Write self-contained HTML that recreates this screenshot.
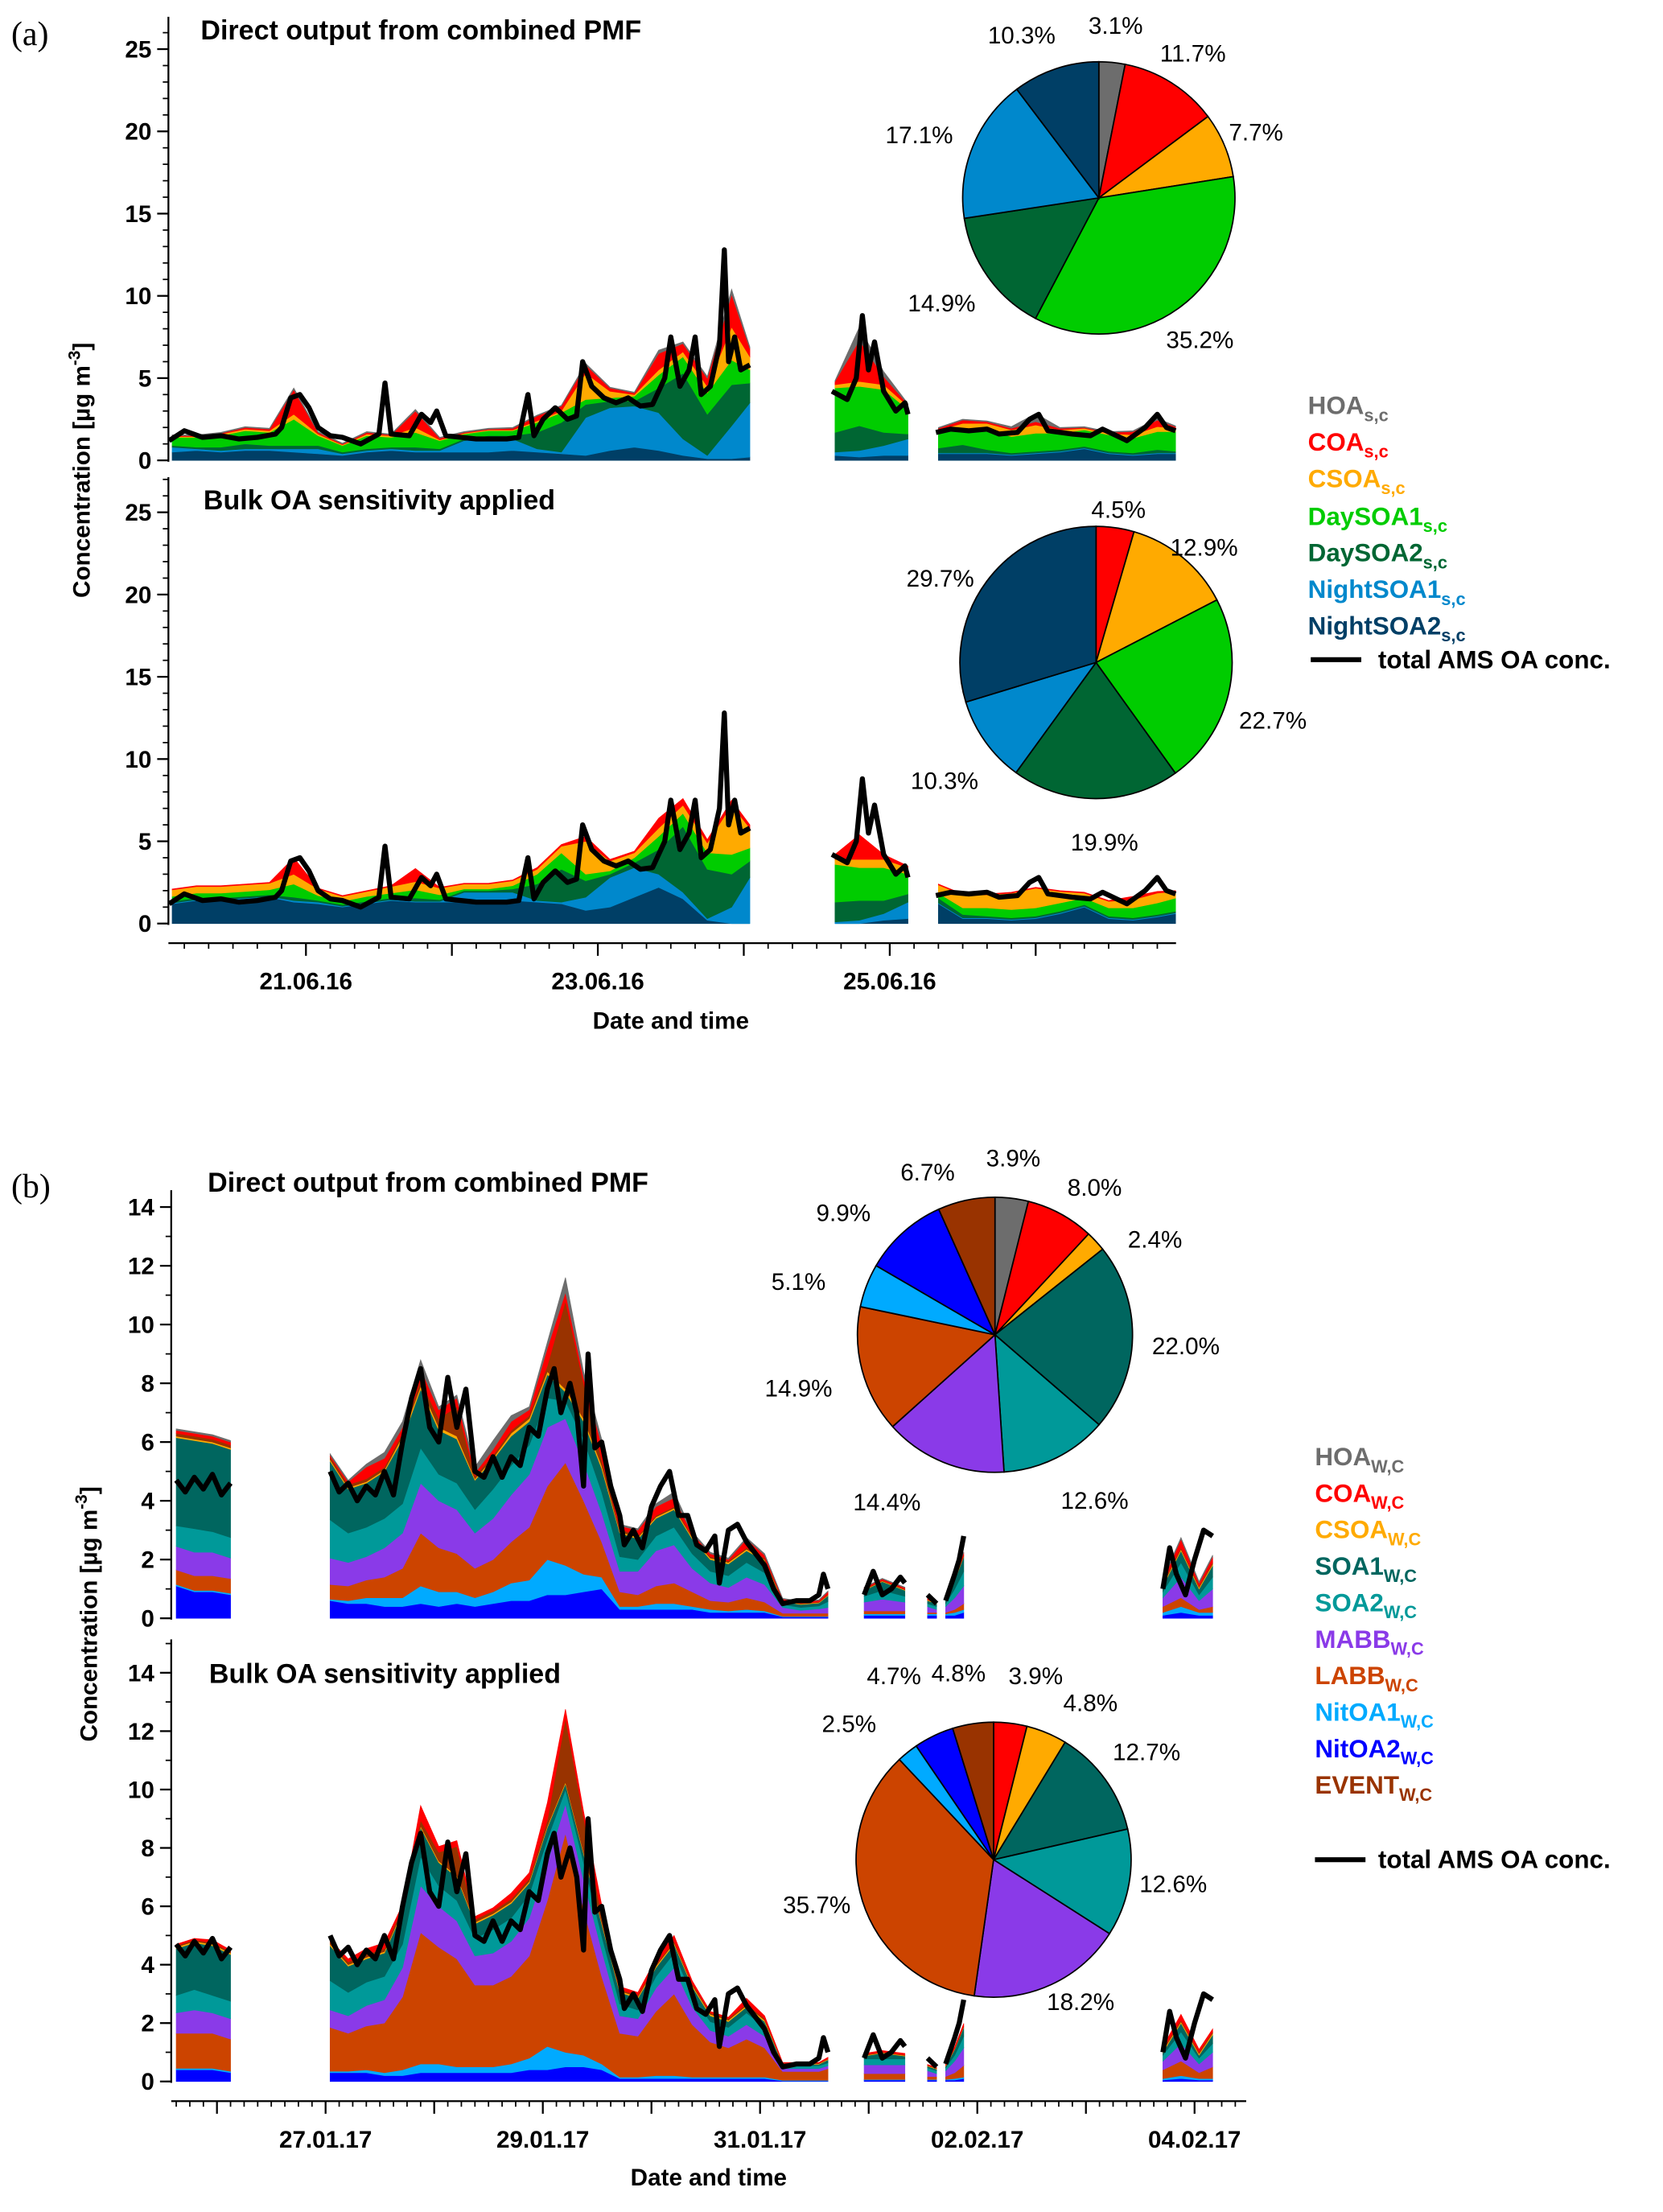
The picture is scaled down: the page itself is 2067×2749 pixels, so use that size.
<!DOCTYPE html>
<html><head><meta charset="utf-8"><style>
html,body{margin:0;padding:0;background:#fff}
svg{display:block}
text{font-family:"Liberation Sans",Arial,sans-serif}
.t{font-weight:bold;font-size:17px}
.ti{font-weight:bold;font-size:19.5px}
.pc{font-size:17px}
.lg{font-weight:bold;font-size:18px}
.sb{font-size:12.5px}
</style></head><body>
<svg id="fig" width="2067" height="2749" viewBox="0 0 1185 1576" xmlns="http://www.w3.org/2000/svg">
<rect x="0" y="0" width="1185" height="1576" fill="#fff"/>
<g id="layer"></g>
<text x="8" y="32" font-size="24" style="font-family:'Liberation Serif',serif">(a)</text>
<text x="8" y="853" font-size="24" style="font-family:'Liberation Serif',serif">(b)</text>
<text class="ti" x="143" y="28">Direct output from combined PMF</text>
<text class="ti" x="145" y="363">Bulk OA sensitivity applied</text>
<text class="ti" x="148" y="849">Direct output from combined PMF</text>
<text class="ti" x="149" y="1199">Bulk OA sensitivity applied</text>
<text class="t" x="478" y="733" text-anchor="middle" font-size="18.5">Date and time</text>
<text class="t" x="505" y="1557" text-anchor="middle" font-size="18.5">Date and time</text>
<text class="t" transform="translate(64,335) rotate(-90)" text-anchor="middle" font-size="19">Concentration [µg m<tspan dy="-7" font-size="12">-3</tspan><tspan dy="7">]</tspan></text>
<text class="t" transform="translate(69,1150) rotate(-90)" text-anchor="middle" font-size="19">Concentration [µg m<tspan dy="-7" font-size="12">-3</tspan><tspan dy="7">]</tspan></text>

<g>
<text class="lg" x="932" y="295" fill="#6d6d6d">HOA<tspan class="sb" dy="5">s,c</tspan></text>
<text class="lg" x="932" y="321" fill="#ff0000">COA<tspan class="sb" dy="5">s,c</tspan></text>
<text class="lg" x="932" y="347" fill="#ffaa00">CSOA<tspan class="sb" dy="5">s,c</tspan></text>
<text class="lg" x="932" y="374" fill="#00cc00">DaySOA1<tspan class="sb" dy="5">s,c</tspan></text>
<text class="lg" x="932" y="400" fill="#006633">DaySOA2<tspan class="sb" dy="5">s,c</tspan></text>
<text class="lg" x="932" y="426" fill="#0088cc">NightSOA1<tspan class="sb" dy="5">s,c</tspan></text>
<text class="lg" x="932" y="452" fill="#003f66">NightSOA2<tspan class="sb" dy="5">s,c</tspan></text>
<line x1="934" y1="470" x2="970" y2="470" stroke="#000" stroke-width="3.5"/>
<text class="lg" x="982" y="476">total AMS OA conc.</text>
</g>
<g>
<text class="lg" x="937" y="1044" fill="#6d6d6d">HOA<tspan class="sb" dy="5">W,C</tspan></text>
<text class="lg" x="937" y="1070" fill="#ff0000">COA<tspan class="sb" dy="5">W,C</tspan></text>
<text class="lg" x="937" y="1096" fill="#ffaa00">CSOA<tspan class="sb" dy="5">W,C</tspan></text>
<text class="lg" x="937" y="1122" fill="#00665f">SOA1<tspan class="sb" dy="5">W,C</tspan></text>
<text class="lg" x="937" y="1148" fill="#009999">SOA2<tspan class="sb" dy="5">W,C</tspan></text>
<text class="lg" x="937" y="1174" fill="#8a3ae8">MABB<tspan class="sb" dy="5">W,C</tspan></text>
<text class="lg" x="937" y="1200" fill="#cc4400">LABB<tspan class="sb" dy="5">W,C</tspan></text>
<text class="lg" x="937" y="1226" fill="#00aaff">NitOA1<tspan class="sb" dy="5">W,C</tspan></text>
<text class="lg" x="937" y="1252" fill="#0000ff">NitOA2<tspan class="sb" dy="5">W,C</tspan></text>
<text class="lg" x="937" y="1278" fill="#993300">EVENT<tspan class="sb" dy="5">W,C</tspan></text>
<line x1="937" y1="1325" x2="973" y2="1325" stroke="#000" stroke-width="3.5"/>
<text class="lg" x="982" y="1331">total AMS OA conc.</text>
</g>

<g>
<text class="pc" text-anchor="middle" x="795" y="24">3.1%</text>
<text class="pc" text-anchor="middle" x="850" y="44">11.7%</text>
<text class="pc" text-anchor="middle" x="895" y="100">7.7%</text>
<text class="pc" text-anchor="middle" x="855" y="248">35.2%</text>
<text class="pc" text-anchor="middle" x="671" y="222">14.9%</text>
<text class="pc" text-anchor="middle" x="655" y="102">17.1%</text>
<text class="pc" text-anchor="middle" x="728" y="31">10.3%</text>
<text class="pc" text-anchor="middle" x="797" y="369">4.5%</text>
<text class="pc" text-anchor="middle" x="858" y="396">12.9%</text>
<text class="pc" text-anchor="middle" x="907" y="519">22.7%</text>
<text class="pc" text-anchor="middle" x="787" y="606">19.9%</text>
<text class="pc" text-anchor="middle" x="673" y="562">10.3%</text>
<text class="pc" text-anchor="middle" x="670" y="418">29.7%</text>
<text class="pc" text-anchor="middle" x="722" y="831">3.9%</text>
<text class="pc" text-anchor="middle" x="780" y="852">8.0%</text>
<text class="pc" text-anchor="middle" x="823" y="889">2.4%</text>
<text class="pc" text-anchor="middle" x="845" y="965">22.0%</text>
<text class="pc" text-anchor="middle" x="780" y="1075">12.6%</text>
<text class="pc" text-anchor="middle" x="632" y="1076">14.4%</text>
<text class="pc" text-anchor="middle" x="569" y="995">14.9%</text>
<text class="pc" text-anchor="middle" x="569" y="919">5.1%</text>
<text class="pc" text-anchor="middle" x="601" y="870">9.9%</text>
<text class="pc" text-anchor="middle" x="661" y="841">6.7%</text>
<text class="pc" text-anchor="middle" x="738" y="1200">3.9%</text>
<text class="pc" text-anchor="middle" x="777" y="1219">4.8%</text>
<text class="pc" text-anchor="middle" x="817" y="1254">12.7%</text>
<text class="pc" text-anchor="middle" x="836" y="1348">12.6%</text>
<text class="pc" text-anchor="middle" x="770" y="1432">18.2%</text>
<text class="pc" text-anchor="middle" x="582" y="1363">35.7%</text>
<text class="pc" text-anchor="middle" x="605" y="1234">2.5%</text>
<text class="pc" text-anchor="middle" x="637" y="1200">4.7%</text>
<text class="pc" text-anchor="middle" x="683" y="1198">4.8%</text>
</g>
</svg>
<script>
// ---------- Panel (a) data: hours since 20.06.16 00:00 ----------
const tA = [2,6,10,14,18,22,26,30,34,38,42,46,50,54,58,62,66,70,74,78,82,86,90,94,97,null,111,115,119,123,null,128,132,136,140,144,148,152,156,160,164,167];
const aTopNightSOA2 = [0.5,0.6,0.5,0.6,0.6,0.5,0.4,0.3,0.5,0.6,0.5,0.5,0.5,0.5,0.6,0.5,0.4,0.3,0.6,0.8,0.6,0.3,0.1,0.1,0.2,null,0.3,0.2,0.3,0.3,null,0.4,0.4,0.4,0.3,0.4,0.5,0.7,0.4,0.3,0.4,0.4];
const aTopNightSOA1 = [0.3,0.1,0.1,0.1,0.1,0.2,0.3,0.1,0.1,0.1,0.1,0.1,0.7,0.9,0.7,0.2,0.1,2.3,2.6,2.5,2.3,1.0,0.2,2.0,3.3,null,0.2,0.4,0.6,1.0,null,0.05,0.05,0.05,0.05,0.05,0.05,0.05,0.05,0.05,0.05,0.05];
const aTopDaySOA2 = [0.1,0.1,0.2,0.3,0.2,0.2,0.2,0.1,0.1,0.1,0.2,0.1,0.1,0.1,0.2,1.0,1.8,0.8,0.4,0.3,1.5,4.0,2.5,2.5,1.2,null,1.2,1.5,0.8,0.3,null,0.3,0.5,0.2,0.1,0.1,0.1,0.1,0.1,0.1,0.2,0.1];
const aTopDaySOA1 = [0.5,0.6,0.7,0.8,0.8,1.6,0.6,0.4,0.8,0.6,0.9,0.5,0.3,0.3,0.3,0.6,0.6,0.3,0.2,0.3,0.8,1.0,1.3,1.5,0.8,null,2.7,2.4,2.6,1.5,null,1.0,1.0,1.2,1.0,1.1,1.0,1.0,1.0,0.9,1.1,1.2];
const aTopCSOA = [0.05,0.05,0.1,0.1,0.1,0.3,0.1,0.05,0.1,0.1,0.3,0.05,0.05,0.05,0.05,0.1,0.1,1.6,0.4,0.1,0.3,0.3,0.4,2.0,0.8,null,0.2,0.3,0.3,0.2,null,0.1,0.3,0.4,0.4,0.5,0.2,0.1,0.1,0.2,0.3,0.2];
const aTopCOA = [0.05,0.05,0.05,0.1,0.1,1.5,0.1,0.05,0.1,0.05,1.0,0.1,0.05,0.05,0.1,0.3,0.3,0.5,0.2,0.1,1.0,0.5,0.5,2.0,0.5,null,0.2,2.5,0.5,0.1,null,0.1,0.2,0.1,0.1,0.2,0.1,0.05,0.05,0.2,0.4,0.1];
const aTopHOA = [0.05,0.05,0.05,0.05,0.05,0.1,0.05,0.05,0.05,0.05,0.1,0.05,0.05,0.05,0.05,0.05,0.05,0.1,0.05,0.05,0.2,0.1,0.1,0.3,0.1,null,0.05,0.8,0.3,0.05,null,0.05,0.05,0.05,0.1,0.5,0.05,0.05,0.05,0.05,0.1,0.05];

const aBotNightSOA2 = [1.2,1.4,1.4,1.5,1.6,1.3,1.2,1.0,1.2,1.4,1.3,1.3,1.3,1.3,1.4,1.3,1.2,0.8,1.0,1.6,2.2,1.5,0.2,0.0,0.0,null,0.0,0.0,0.2,0.3,null,1.2,0.3,0.3,0.2,0.3,0.6,1.0,0.3,0.2,0.4,0.6];
const aBotNightSOA1 = [0.05,0.05,0.05,0.05,0.05,0.1,0.1,0.05,0.05,0.05,0.05,0.05,0.6,0.6,0.5,0.1,0.1,0.8,1.8,1.8,0.8,0.4,0.1,1.0,2.8,null,0.1,0.2,0.4,1.0,null,0.05,0.05,0.05,0.05,0.05,0.05,0.05,0.05,0.05,0.05,0.05];
const aBotDaySOA2 = [0.1,0.1,0.1,0.1,0.1,0.2,0.1,0.1,0.1,0.1,0.2,0.1,0.1,0.1,0.2,1.0,2.0,1.0,0.2,0.3,1.5,4.0,3.0,2.0,1.0,null,1.2,1.2,0.8,0.5,null,0.3,0.2,0.1,0.1,0.1,0.1,0.1,0.1,0.1,0.1,0.1];
const aBotDaySOA1 = [0.3,0.3,0.3,0.3,0.3,0.8,0.3,0.2,0.3,0.3,0.5,0.3,0.1,0.1,0.2,0.6,1.0,0.4,0.2,0.3,0.8,0.8,1.0,1.2,0.8,null,2.3,2.0,2.0,1.2,null,0.3,0.4,0.5,0.5,0.5,0.5,0.4,0.5,0.6,0.7,0.8];
const aBotCSOA = [0.4,0.4,0.4,0.4,0.4,0.6,0.4,0.3,0.3,0.4,0.5,0.4,0.3,0.3,0.3,0.3,0.4,2.0,0.6,0.3,0.5,0.5,0.6,3.0,1.2,null,0.3,0.5,0.5,0.4,null,0.5,0.8,0.8,1.0,1.2,0.7,0.3,0.4,0.5,0.6,0.4];
const aBotCOA = [0.05,0.05,0.05,0.05,0.05,1.0,0.05,0.05,0.05,0.05,0.8,0.05,0.05,0.05,0.05,0.1,0.1,0.3,0.1,0.1,0.6,0.4,0.2,0.3,0.2,null,0.3,1.5,0.3,0.1,null,0.05,0.05,0.05,0.05,0.05,0.05,0.05,0.05,0.2,0.1,0.05];

const lineAT = [1.5,4,7,10,13,16,19,20,21.5,23,24.5,26,28,30,33,36,37,38,41,43,44.5,45.5,47,52,57,59,60.5,61.5,63,65,67,68.5,69.5,71,73,75,77,79,81,83,84,85.5,87,88,89,90.5,92,92.8,93.5,94.5,95.5,97,null,110.5,113,114.5,115.5,116.5,117.5,119,121,122.5,123,null,127.6,130,133,136,138,141,143,144.5,146,150,153,155,159,162,164,165.5,167];
const lineAV = [1.2,1.8,1.4,1.5,1.3,1.4,1.6,2.0,3.8,4.0,3.2,2.0,1.5,1.4,1.0,1.6,4.7,1.6,1.5,2.8,2.3,3.0,1.5,1.3,1.3,1.4,4.0,1.5,2.5,3.2,2.5,2.7,6.0,4.5,3.8,3.5,3.8,3.3,3.4,5.0,7.5,4.5,5.5,7.5,4.0,4.5,7.0,12.8,6.0,7.5,5.5,5.8,null,4.2,3.7,5.0,8.8,5.5,7.2,4.2,3.0,3.5,2.8,null,1.7,1.9,1.8,1.9,1.6,1.7,2.5,2.8,1.8,1.6,1.5,1.9,1.2,2.0,2.8,2.0,1.8];

const pieATop = [3.1,11.7,7.7,35.2,14.9,17.1,10.3];
const pieABot = [0,4.5,12.9,22.7,19.9,10.3,29.7];
const yTicksA = [0,5,10,15,20,25];
const xLabelsA = ["21.06.16","23.06.16","25.06.16"];

// ---------- Panel (b) data: hours since 26.01.17 00:00 ----------
const tB = [-9,-5,-1,3,null,25,29,33,37,41,45,49,53,57,61,65,69,73,77,81,85,89,93,97,101,105,109,113,117,121,125,129,133,135,null,143,147,152,null,157,159,null,161,163,165,null,209,213,217,220];
const bTopNitOA2 = [1.1,0.9,0.9,0.8,null,0.6,0.5,0.5,0.4,0.4,0.5,0.4,0.5,0.4,0.5,0.6,0.6,0.8,0.8,0.9,1.0,0.3,0.3,0.3,0.3,0.3,0.2,0.2,0.2,0.2,0.05,0.05,0.05,0.05,null,0.1,0.1,0.1,null,0.1,0.1,null,0.1,0.1,0.2,null,0.1,0.2,0.1,0.1];
const bTopNitOA1 = [0.05,0.05,0.05,0.05,null,0.05,0.1,0.2,0.3,0.3,0.6,0.5,0.4,0.3,0.4,0.6,0.7,1.2,1.0,0.6,0.4,0.1,0.1,0.2,0.2,0.1,0.1,0.05,0.1,0.05,0.02,0.02,0.02,0.02,null,0.05,0.05,0.05,null,0.05,0.05,null,0.05,0.1,0.1,null,0.1,0.2,0.1,0.1];
const bTopLABB = [0.5,0.5,0.5,0.5,null,0.5,0.5,0.6,0.7,1.0,1.8,1.5,1.3,1.0,1.1,1.4,1.8,2.5,3.5,2.5,1.2,0.5,0.4,0.6,0.7,0.5,0.3,0.3,0.4,0.3,0.1,0.1,0.1,0.1,null,0.1,0.1,0.1,null,0.05,0.05,null,0.05,0.1,0.2,null,0.2,0.3,0.1,0.2];
const bTopMABB = [0.8,0.8,0.8,0.7,null,0.9,0.8,0.8,1.0,1.2,1.7,1.6,1.5,1.2,1.4,1.6,1.8,2.0,1.5,1.3,1.0,0.7,0.8,1.2,1.3,0.8,0.6,0.5,0.7,0.6,0.2,0.1,0.15,0.2,null,0.3,0.4,0.3,null,0.2,0.1,null,0.2,0.4,0.6,null,0.3,0.7,0.3,0.6];
const bTopSOA2 = [0.7,0.8,0.7,0.7,null,1.3,1.0,1.0,1.0,1.0,1.2,0.9,0.9,0.8,1.0,1.0,1.0,1.0,0.6,0.8,0.7,0.5,0.4,0.5,0.6,0.5,0.4,0.4,0.5,0.4,0.1,0.1,0.1,0.2,null,0.2,0.3,0.2,null,0.1,0.1,null,0.1,0.3,0.5,null,0.2,0.5,0.2,0.4];
const bTopSOA1 = [3.0,3.0,3.0,3.0,null,2.0,1.5,1.5,1.6,2.2,2.0,1.5,1.5,1.0,1.0,1.0,0.8,0.8,0.3,0.6,0.8,0.8,0.7,0.6,0.6,0.5,0.4,0.4,0.4,0.4,0.1,0.1,0.1,0.2,null,0.2,0.3,0.2,null,0.1,0.1,null,0.1,0.3,0.5,null,0.2,0.4,0.2,0.4];
const bTopCSOA = [0.05,0.05,0.05,0.05,null,0.05,0.05,0.05,0.05,0.1,0.1,0.1,0.1,0.05,0.05,0.1,0.1,0.1,0.1,0.1,0.1,0.05,0.05,0.05,0.05,0.05,0.05,0.05,0.05,0.05,0.02,0.02,0.02,0.02,null,0.02,0.02,0.02,null,0.02,0.02,null,0.02,0.02,0.02,null,0.05,0.05,0.05,0.05];
const bTopEVENT = [0.1,0.1,0.1,0.1,null,0.1,0.1,0.1,0.1,0.1,0.2,0.3,1.0,0.1,0.1,0.1,0.1,0.2,3.0,1.2,0.2,0.1,0.05,0.05,0.05,0.05,0.05,0.05,0.05,0.05,0.02,0.02,0.02,0.02,null,0.02,0.02,0.02,null,0.02,0.02,null,0.02,0.02,0.02,null,0.05,0.05,0.05,0.05];
const bTopCOA = [0.1,0.1,0.1,0.1,null,0.05,0.1,0.4,0.3,0.2,0.4,0.3,0.3,0.1,0.2,0.3,0.2,0.6,0.3,0.2,0.5,0.1,0.2,0.3,0.3,0.1,0.1,0.05,0.3,0.1,0.05,0.05,0.05,0.1,null,0.05,0.05,0.05,null,0.05,0.05,null,0.05,0.05,0.1,null,0.1,0.3,0.1,0.2];
const bTopHOA = [0.05,0.05,0.05,0.05,null,0.05,0.05,0.1,0.2,0.2,0.3,0.1,0.1,0.2,0.3,0.2,0.1,0.2,0.5,0.2,0.2,0.05,0.05,0.1,0.2,0.05,0.05,0.05,0.05,0.05,0.02,0.02,0.02,0.02,null,0.02,0.02,0.02,null,0.02,0.02,null,0.02,0.02,0.02,null,0.05,0.05,0.05,0.05];

const bBotNitOA2 = [0.4,0.4,0.4,0.3,null,0.3,0.3,0.3,0.2,0.2,0.3,0.3,0.3,0.3,0.3,0.3,0.4,0.4,0.5,0.5,0.4,0.1,0.1,0.1,0.1,0.1,0.1,0.1,0.1,0.1,0.02,0.02,0.02,0.02,null,0.05,0.05,0.05,null,0.05,0.05,null,0.05,0.05,0.1,null,0.05,0.1,0.05,0.05];
const bBotNitOA1 = [0.05,0.05,0.05,0.05,null,0.05,0.05,0.1,0.1,0.2,0.3,0.3,0.2,0.2,0.2,0.3,0.4,0.8,0.5,0.4,0.2,0.05,0.05,0.1,0.1,0.05,0.05,0.05,0.05,0.05,0.02,0.02,0.02,0.02,null,0.02,0.02,0.02,null,0.02,0.02,null,0.02,0.05,0.05,null,0.05,0.1,0.05,0.05];
const bBotLABB = [1.2,1.2,1.2,1.1,null,1.5,1.3,1.5,1.7,2.5,4.5,4.0,3.7,2.8,2.8,3.0,3.5,5.0,7.5,5.0,3.0,1.5,1.4,2.2,2.8,1.8,1.2,1.0,1.3,1.0,0.3,0.3,0.3,0.4,null,0.2,0.2,0.2,null,0.1,0.1,null,0.1,0.2,0.4,null,0.3,0.5,0.2,0.4];
const bBotMABB = [0.7,0.8,0.7,0.7,null,0.6,0.6,0.7,0.8,1.0,1.6,1.4,1.3,1.0,1.1,1.2,1.3,1.3,1.0,1.0,0.9,0.6,0.6,0.8,0.9,0.6,0.4,0.4,0.5,0.4,0.1,0.1,0.1,0.1,null,0.3,0.3,0.3,null,0.2,0.1,null,0.2,0.4,0.6,null,0.3,0.6,0.3,0.5];
const bBotSOA2 = [0.6,0.7,0.6,0.6,null,1.0,0.8,0.8,0.8,0.8,1.0,0.7,0.7,0.6,0.8,0.8,0.8,0.8,0.5,0.6,0.5,0.4,0.3,0.4,0.5,0.4,0.3,0.3,0.4,0.3,0.1,0.1,0.1,0.1,null,0.2,0.2,0.2,null,0.1,0.1,null,0.1,0.2,0.4,null,0.2,0.4,0.2,0.3];
const bBotSOA1 = [1.6,1.6,1.7,1.6,null,1.2,0.9,0.8,0.8,1.1,1.0,0.8,0.8,0.5,0.5,0.5,0.4,0.4,0.2,0.3,0.4,0.4,0.4,0.3,0.3,0.3,0.2,0.2,0.2,0.2,0.05,0.05,0.05,0.1,null,0.1,0.2,0.1,null,0.05,0.05,null,0.05,0.2,0.3,null,0.1,0.3,0.1,0.3];
const bBotCSOA = [0.05,0.05,0.05,0.05,null,0.05,0.05,0.05,0.05,0.05,0.05,0.05,0.05,0.05,0.05,0.05,0.05,0.05,0.05,0.05,0.05,0.05,0.05,0.05,0.05,0.05,0.05,0.05,0.05,0.05,0.02,0.02,0.02,0.02,null,0.02,0.02,0.02,null,0.02,0.02,null,0.02,0.02,0.02,null,0.05,0.05,0.05,0.05];
const bBotEVENT = [0.05,0.05,0.05,0.05,null,0.1,0.1,0.1,0.1,0.1,0.2,0.3,1.0,0.1,0.1,0.1,0.1,0.2,2.2,1.2,0.2,0.05,0.05,0.05,0.05,0.05,0.05,0.05,0.05,0.05,0.02,0.02,0.02,0.02,null,0.02,0.02,0.02,null,0.02,0.02,null,0.02,0.02,0.02,null,0.05,0.05,0.05,0.05];
const bBotCOA = [0.05,0.05,0.1,0.05,null,0.05,0.1,0.2,0.2,0.1,0.5,0.2,0.2,0.1,0.1,0.2,0.2,0.6,0.3,0.2,0.4,0.1,0.1,0.2,0.2,0.1,0.05,0.05,0.2,0.1,0.02,0.02,0.02,0.05,null,0.05,0.05,0.05,null,0.02,0.02,null,0.02,0.05,0.1,null,0.1,0.2,0.1,0.1];

const lineBT = [-9,-7,-5,-3,-1,1,3,null,25,27,29,31,33,35,37,39,41,43,45,47,49,51,53,55,57,59,61,63,65,67,69,71,73,74.5,76,78,79.5,81,82,83.5,85,87,89,90,92,94,96,98,100,102,104,106,108,110,111,113,115,117,119,121,123,125,128,131,133,134,135,null,143,145,147,149,151,152,null,157,159,null,161,163,164,165,null,209,210.5,212,214,216,218,220];
const lineBV = [4.7,4.3,4.8,4.4,4.9,4.2,4.6,null,5.0,4.3,4.6,4.0,4.5,4.2,5.0,4.2,6.0,7.5,8.5,6.5,6.0,8.2,6.5,7.8,5.0,4.8,5.5,4.8,5.5,5.2,6.5,6.2,7.8,8.5,7.0,8.0,7.0,4.5,9.0,5.8,6.0,4.5,3.5,2.5,3.0,2.4,3.8,4.5,5.0,3.5,3.5,2.5,2.3,2.8,1.2,3.0,3.2,2.6,2.2,1.8,1.0,0.5,0.6,0.6,0.8,1.5,1.0,null,0.8,1.6,0.8,1.0,1.4,1.2,null,0.8,0.5,null,0.6,1.5,2.0,2.8,null,1.0,2.4,1.5,0.8,2.0,3.0,2.8];

const pieBTop = [3.9,8.0,2.4,22.0,12.6,14.4,14.9,5.1,9.9,6.7];
const pieBBot = [0,3.9,4.8,12.7,12.6,18.2,35.7,2.5,4.7,4.8];
const yTicksB = [0,2,4,6,8,10,12,14];
const xLabelsB = ["27.01.17","29.01.17","31.01.17","02.02.17","04.02.17"];

// ---------- rendering ----------
const NS = "http://www.w3.org/2000/svg";
const layer = document.getElementById('layer');
function el(tag, attrs, parent){ const e=document.createElementNS(NS,tag); for(const k in attrs) e.setAttribute(k,attrs[k]); (parent||layer).appendChild(e); return e; }

const colA = {HOA:'#6d6d6d',COA:'#ff0000',CSOA:'#ffaa00',D1:'#00cc00',D2:'#006633',N1:'#0088cc',N2:'#003f66'};
const colB = {HOA:'#6d6d6d',COA:'#ff0000',CSOA:'#ffaa00',SOA1:'#00665f',SOA2:'#009999',MABB:'#8a3ae8',LABB:'#cc4400',N1:'#00aaff',N2:'#0000ff',EV:'#993300'};

function xA(h){ return 114 + h*104/24; }
function xB(h){ return 154.6 + h*77.4/24; }
function yScale(y0, pxPerUnit){ return v => y0 - v*pxPerUnit; }

function drawStack(name, times, layers, xf, yf){
  const g = el('g',{});
  
  
  const segs=[]; let cur=[];
  times.forEach((t,i)=>{ if(t===null){ if(cur.length) segs.push(cur); cur=[]; } else cur.push(i); });
  if(cur.length) segs.push(cur);
  segs.forEach(seg=>{
    const base = seg.map(()=>0);
    layers.forEach(L=>{
      const top = seg.map((i,k)=> base[k] + (L.v[i]||0));
      let d='';
      seg.forEach((i,k)=>{ d += (k?'L':'M') + xf(times[i]).toFixed(2)+','+yf(top[k]).toFixed(2); });
      for(let k=seg.length-1;k>=0;k--) d += 'L'+xf(times[seg[k]]).toFixed(2)+','+yf(base[k]).toFixed(2);
      d+='Z';
      const p = el('path',{d:d, fill:L.c, stroke:L.c, 'stroke-width':0.4}, g);
      
      
      seg.forEach((i,k)=> base[k]=top[k]);
    });
  });
}
function drawLine(name, T, V, xf, yf){
  let d=''; let pen=false;
  T.forEach((t,i)=>{ if(t===null||V[i]===null){pen=false;return;} d += (pen?'L':'M')+xf(t).toFixed(2)+','+yf(V[i]).toFixed(2); pen=true; });
  const p = el('path',{d:d, fill:'none', stroke:'#000', 'stroke-width':3.6, 'stroke-linejoin':'round'});
  
  
}
function drawYAxis(name, x, yTop, yf, ticks, minorStep){
  const g = el('g',{});
  
  
  el('line',{x1:x,y1:yTop,x2:x,y2:yf(0)+1,stroke:'#000','stroke-width':1.3},g);
  const maxV = ticks[ticks.length-1] + (ticks[1]-ticks[0])*0.9;
  for(let v=0; v<=maxV+1e-6; v+=minorStep){
    if(yf(v)<yTop) break;
    el('line',{x1:x-4,y1:yf(v),x2:x,y2:yf(v),stroke:'#000','stroke-width':1},g);
  }
  ticks.forEach(v=>{
    el('line',{x1:x-8,y1:yf(v),x2:x,y2:yf(v),stroke:'#000','stroke-width':1.3},g);
    const t = el('text',{x:x-12,y:yf(v)+6,'text-anchor':'end','class':'t'},g);
    t.textContent = v;
  });
}
function drawXAxis(name, y, x0, x1, xf, hStart, hEnd, minorH, labels, labelH0, labelStep){
  const g = el('g',{});
  
  
  el('line',{x1:x0,y1:y,x2:x1,y2:y,stroke:'#000','stroke-width':1.3},g);
  for(let h=Math.ceil(hStart/minorH)*minorH; h<=hEnd; h+=minorH){
    const major = (Math.round(h)%24===0);
    el('line',{x1:xf(h),y1:y,x2:xf(h),y2:y+(major?9:4),stroke:'#000','stroke-width':major?1.3:1},g);
  }
  labels.forEach((s,i)=>{
    const t = el('text',{x:xf(labelH0+i*labelStep),y:y+33,'text-anchor':'middle','class':'t'},g);
    t.textContent = s;
  });
}
function drawPie(name, cx, cy, r, vals, cols){
  const g = el('g',{});
  
  
  const tot = vals.reduce((a,b)=>a+b,0);
  let a = -Math.PI/2;
  vals.forEach((v,i)=>{
    if(v<=0) return;
    const a2 = a + v/tot*2*Math.PI;
    const large = (a2-a)>Math.PI?1:0;
    const d = `M${cx},${cy}L${cx+r*Math.cos(a)},${cy+r*Math.sin(a)}A${r},${r} 0 ${large} 1 ${cx+r*Math.cos(a2)},${cy+r*Math.sin(a2)}Z`;
    const p = el('path',{d:d, fill:cols[i], stroke:'#000','stroke-width':1},g);
    
    
    a = a2;
  });
}

// Panel a
const yAT = yScale(328, 11.72), yAB = yScale(658, 11.72);
drawStack('stack-a-top', tA, [
  {n:'nightsoa2',c:colA.N2,v:aTopNightSOA2},{n:'nightsoa1',c:colA.N1,v:aTopNightSOA1},
  {n:'daysoa2',c:colA.D2,v:aTopDaySOA2},{n:'daysoa1',c:colA.D1,v:aTopDaySOA1},
  {n:'csoa',c:colA.CSOA,v:aTopCSOA},{n:'coa',c:colA.COA,v:aTopCOA},{n:'hoa',c:colA.HOA,v:aTopHOA}], xA, yAT);
drawStack('stack-a-bottom', tA, [
  {n:'nightsoa2',c:colA.N2,v:aBotNightSOA2},{n:'nightsoa1',c:colA.N1,v:aBotNightSOA1},
  {n:'daysoa2',c:colA.D2,v:aBotDaySOA2},{n:'daysoa1',c:colA.D1,v:aBotDaySOA1},
  {n:'csoa',c:colA.CSOA,v:aBotCSOA},{n:'coa',c:colA.COA,v:aBotCOA}], xA, yAB);
drawLine('total-line-a-top', lineAT, lineAV, xA, yAT);
drawLine('total-line-a-bottom', lineAT, lineAV, xA, yAB);
drawYAxis('y-axis-a-top', 120, 12, yAT, yTicksA, 1);
drawYAxis('y-axis-a-bottom', 120, 340, yAB, yTicksA, 1);
drawXAxis('x-axis-a', 672, 120, 838, xA, 1.4, 167, 4, xLabelsA, 24, 48);
const pieColsA = [colA.HOA,colA.COA,colA.CSOA,colA.D1,colA.D2,colA.N1,colA.N2];
drawPie('pie-a-top', 783, 141, 97, pieATop, pieColsA);
drawPie('pie-a-bottom', 781, 472, 97, pieABot, pieColsA);

// Panel b
const yBT = yScale(1153, 20.93), yBB = yScale(1483, 20.8);
drawStack('stack-b-top', tB, [
  {n:'nitoa2',c:colB.N2,v:bTopNitOA2},{n:'nitoa1',c:colB.N1,v:bTopNitOA1},{n:'labb',c:colB.LABB,v:bTopLABB},
  {n:'mabb',c:colB.MABB,v:bTopMABB},{n:'soa2',c:colB.SOA2,v:bTopSOA2},{n:'soa1',c:colB.SOA1,v:bTopSOA1},
  {n:'csoa',c:colB.CSOA,v:bTopCSOA},{n:'event',c:colB.EV,v:bTopEVENT},{n:'coa',c:colB.COA,v:bTopCOA},{n:'hoa',c:colB.HOA,v:bTopHOA}], xB, yBT);
drawStack('stack-b-bottom', tB, [
  {n:'nitoa2',c:colB.N2,v:bBotNitOA2},{n:'nitoa1',c:colB.N1,v:bBotNitOA1},{n:'labb',c:colB.LABB,v:bBotLABB},
  {n:'mabb',c:colB.MABB,v:bBotMABB},{n:'soa2',c:colB.SOA2,v:bBotSOA2},{n:'soa1',c:colB.SOA1,v:bBotSOA1},
  {n:'csoa',c:colB.CSOA,v:bBotCSOA},{n:'event',c:colB.EV,v:bBotEVENT},{n:'coa',c:colB.COA,v:bBotCOA}], xB, yBB);
drawLine('total-line-b-top', lineBT, lineBV, xB, yBT);
drawLine('total-line-b-bottom', lineBT, lineBV, xB, yBB);
drawYAxis('y-axis-b-top', 122, 848, yBT, yTicksB, 1);
drawYAxis('y-axis-b-bottom', 122, 1168, yBB, yTicksB, 1);
drawXAxis('x-axis-b', 1497, 122, 888, xB, -10, 227, 3, xLabelsB, 24, 48);
const pieColsB = [colB.HOA,colB.COA,colB.CSOA,colB.SOA1,colB.SOA2,colB.MABB,colB.LABB,colB.N1,colB.N2,colB.EV];
drawPie('pie-b-top', 709, 951, 98, pieBTop, pieColsB);
drawPie('pie-b-bottom', 708, 1325, 98, pieBBot, pieColsB);
</script>
</body></html>
